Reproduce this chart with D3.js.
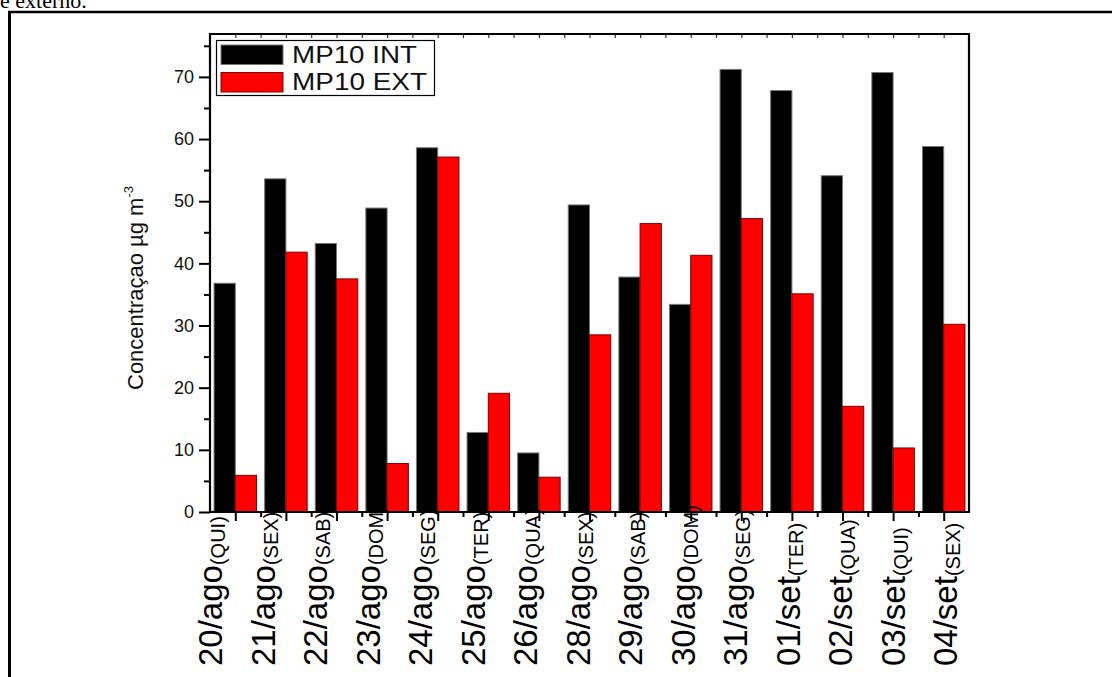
<!DOCTYPE html>
<html>
<head>
<meta charset="utf-8">
<script src="https://cdn.jsdelivr.net/npm/d3@7"></script>
<style>
  html, body { margin: 0; padding: 0; background: #fff; }
  svg { display: block; }
  text { font-family: Arial, "Liberation Sans", sans-serif; }
</style>
</head>
<body>
<svg id="chart" width="1112" height="677"></svg>
<script>
// ---- data ----
const dates = ["20/ago","21/ago","22/ago","23/ago","24/ago","25/ago","26/ago","28/ago","29/ago","30/ago","31/ago","01/set","02/set","03/set","04/set"];
const weekdays = ["(QUI)","(SEX)","(SAB)","(DOM)","(SEG)","(TER)","(QUA)","(SEX)","(SAB)","(DOM)","(SEG)","(TER)","(QUA)","(QUI)","(SEX)"];
const seriesNames = ["MP10 INT", "MP10 EXT"];
const mp10Int = [36.8, 53.6, 43.2, 48.9, 58.6, 12.8, 9.5, 49.4, 37.8, 33.4, 71.2, 67.8, 54.1, 70.7, 58.8];
const mp10Ext = [5.9, 41.8, 37.5, 7.8, 57.1, 19.1, 5.6, 28.5, 46.4, 41.3, 47.2, 35.1, 17.0, 10.3, 30.2];
const yMajorTicks = [0, 10, 20, 30, 40, 50, 60, 70];
const yMinorTicks = [5, 15, 25, 35, 45, 55, 65, 75];

// ---- layout ----
const svg = d3.select("#chart");
const L = 210, R = 969, T = 34, B = 512;

const x0 = d3.scaleBand().domain(dates).range([L, R]).paddingInner(0.16).paddingOuter(0.08);
const x1 = d3.scaleBand().domain(seriesNames).range([0, x0.bandwidth()]);
const y = d3.scaleLinear().domain([0, 76.9]).range([B, T]);
const labelX = d3.scalePoint().domain(dates).range([210, 945]);
const colors = { "MP10 INT": "#000000", "MP10 EXT": "#ff0000" };
const strokes = { "MP10 INT": "#777777", "MP10 EXT": "#7a0000" };

// page frame & caption fragment
svg.append("text").attr("x", 0).attr("y", 8)
  .style("font-family", "'Liberation Serif', 'Times New Roman', serif")
  .style("font-size", "22px").text("e externo.");
svg.append("line").attr("x1", 8).attr("x2", 1112).attr("y1", 12).attr("y2", 12)
  .attr("stroke", "#000").attr("stroke-width", 2.6);
svg.append("line").attr("x1", 9.5).attr("x2", 9.5).attr("y1", 11).attr("y2", 677)
  .attr("stroke", "#000").attr("stroke-width", 3);

// bars
const rows = dates.map((d, i) => ({ date: d, values: [
  { key: "MP10 INT", v: mp10Int[i] }, { key: "MP10 EXT", v: mp10Ext[i] } ] }));

const g = svg.append("g");
g.selectAll("g.grp").data(rows).join("g")
  .attr("class", "grp")
  .attr("transform", d => `translate(${x0(d.date)},0)`)
  .selectAll("rect").data(d => d.values).join("rect")
  .attr("x", d => x1(d.key))
  .attr("width", x1.bandwidth())
  .attr("y", d => y(d.v))
  .attr("height", d => y(0) - y(d.v))
  .attr("fill", d => colors[d.key])
  .attr("stroke", d => strokes[d.key])
  .attr("stroke-width", 1);

// axes
const axisG = svg.append("g");
const leftAxis = d3.axisLeft(y).tickValues(yMajorTicks).tickSize(11).tickPadding(5).tickFormat(d3.format("d"));
const la = axisG.append("g").attr("transform", `translate(${L},0)`).call(leftAxis);
la.select(".domain").remove();
la.selectAll("line").attr("stroke", "#000").attr("stroke-width", 2);
la.selectAll("text").style("font-size", "18px").attr("fill", "#111");
const leftMinor = d3.axisLeft(y).tickValues(yMinorTicks).tickSize(6).tickFormat("");
const lm = axisG.append("g").attr("transform", `translate(${L},0)`).call(leftMinor);
lm.select(".domain").remove();
lm.selectAll("line").attr("stroke", "#000").attr("stroke-width", 2);

const centers = dates.map(d => x0(d) + x0.bandwidth() / 2);
const step = x0.step();
const boundaries = d3.range(1, dates.length).map(i => L + i * step);
const xLin = d3.scaleLinear().domain([L, R]).range([L, R]);
const bMaj = axisG.append("g").attr("transform", `translate(0,${B})`)
  .call(d3.axisBottom(xLin).tickValues(centers).tickSize(9).tickFormat(""));
bMaj.select(".domain").remove();
bMaj.selectAll("line").attr("stroke", "#000").attr("stroke-width", 2);
const bMin = axisG.append("g").attr("transform", `translate(0,${B})`)
  .call(d3.axisBottom(xLin).tickValues(boundaries).tickSize(5).tickFormat(""));
bMin.select(".domain").remove();
bMin.selectAll("line").attr("stroke", "#000").attr("stroke-width", 2);

const topVals = centers.concat(boundaries);
const tAx = axisG.append("g").attr("transform", `translate(0,${T})`)
  .call(d3.axisBottom(xLin).tickValues(topVals).tickSize(4).tickFormat(""));
tAx.select(".domain").remove();
tAx.selectAll("line").attr("stroke", "#333").attr("stroke-width", 1.2);

axisG.append("line").attr("x1", L).attr("x2", L).attr("y1", T - 1).attr("y2", B + 1).attr("stroke", "#000").attr("stroke-width", 2.2);
axisG.append("line").attr("x1", R).attr("x2", R).attr("y1", T - 1).attr("y2", B + 1).attr("stroke", "#000").attr("stroke-width", 2.2);
axisG.append("line").attr("x1", L - 1).attr("x2", R + 1).attr("y1", T).attr("y2", T).attr("stroke", "#000").attr("stroke-width", 2.2);
axisG.append("line").attr("x1", L - 1).attr("x2", R + 1).attr("y1", B).attr("y2", B).attr("stroke", "#000").attr("stroke-width", 2.2);

// x labels (rotated)
const lab = svg.append("g").selectAll("text").data(dates).join("text")
  .attr("transform", (d) => `translate(${labelX(d) + 12},666) rotate(-90)`)
  .attr("text-anchor", "start")
  .attr("fill", "#000");
lab.append("tspan").style("font-size", "33px").text(d => d);
lab.append("tspan").style("font-size", "20px").attr("dy", 3).text((d, i) => weekdays[i]);

// y axis title
const yt = svg.append("text")
  .attr("transform", `translate(143,288) rotate(-90)`)
  .attr("text-anchor", "middle")
  .style("font-size", "22px")
  .attr("fill", "#111");
yt.append("tspan").text("Concentraçao µg m");
yt.append("tspan").style("font-size", "13px").attr("dy", -10).text("-3");

// legend
const lg = svg.append("g");
lg.append("rect").attr("x", 216.5).attr("y", 40.5).attr("width", 218).attr("height", 55)
  .attr("fill", "#fff").attr("stroke", "#000").attr("stroke-width", 1.2);
const legendY = d3.scalePoint().domain(seriesNames).range([54.5, 82]);
seriesNames.forEach((s, i) => {
  lg.append("rect").attr("x", 221).attr("y", legendY(s) - 9.5).attr("width", 62).attr("height", 19.5)
    .attr("fill", colors[s]).attr("stroke", strokes[s]).attr("stroke-width", 1);
  lg.append("text").attr("x", 292).attr("y", legendY(s) + 8)
    .style("font-size", "23px").attr("fill", "#111")
    .attr("textLength", i === 0 ? 125 : 135).attr("lengthAdjust", "spacingAndGlyphs")
    .text(s);
});
</script>
</body>
</html>
